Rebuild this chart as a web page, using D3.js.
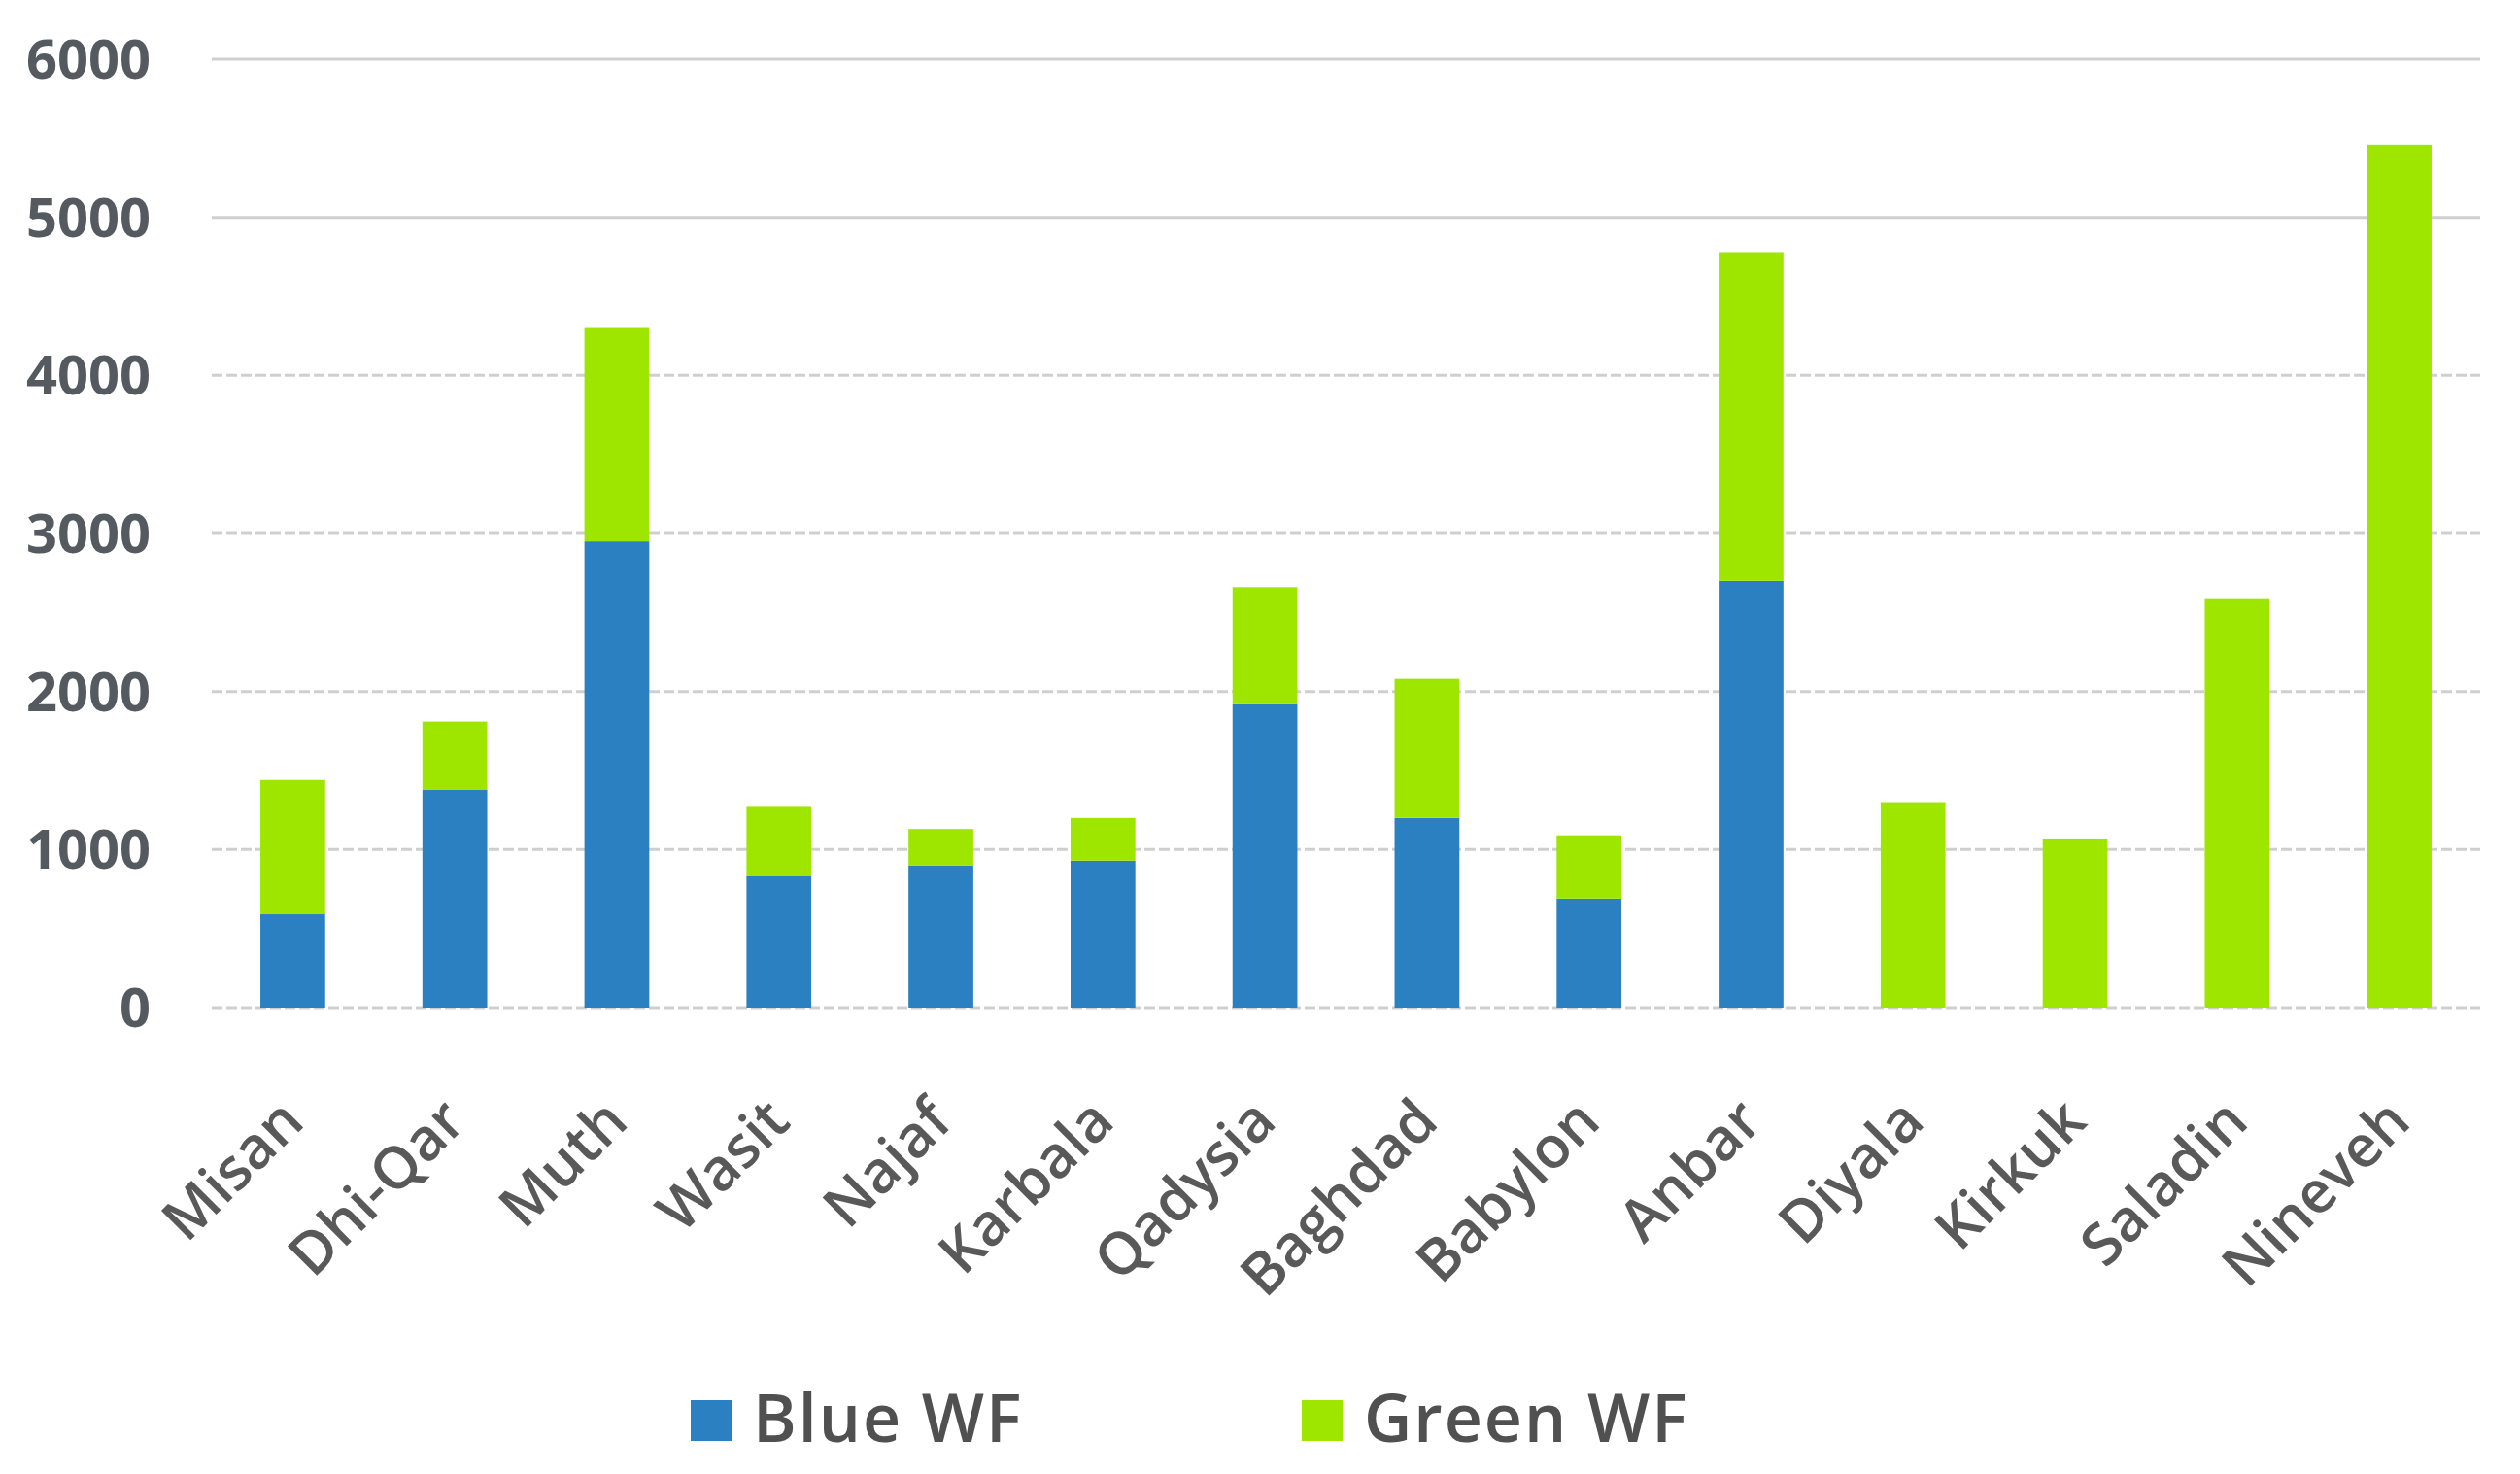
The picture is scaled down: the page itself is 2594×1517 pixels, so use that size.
<!DOCTYPE html>
<html>
<head>
<meta charset="utf-8">
<script src="https://cdn.jsdelivr.net/npm/d3@7"></script>
<style>
  html, body { margin: 0; padding: 0; background: #ffffff; }
  svg { display: block; }
</style>
</head>
<body>
<svg id="chart" width="2594" height="1517"></svg>
<script>
const categories = ["Misan", "Dhi-Qar", "Muth", "Wasit", "Najaf", "Karbala", "Qadysia", "Baghdad", "Babylon", "Anbar", "Diyala", "Kirkuk", "Saladin", "Nineveh"];
const blueWF  = [590, 1380, 2950, 830, 900, 930, 1920, 1200, 690, 2700, 0, 0, 0, 0];
const greenWF = [850, 430, 1350, 440, 230, 270, 740, 880, 400, 2080, 1300, 1070, 2590, 5460];
const seriesNames = ["Blue WF", "Green WF"];
const seriesColors = ["#2a80c0", "#9ee600"];
const yTicks = [0, 1000, 2000, 3000, 4000, 5000, 6000];

(function () {
const svg = d3.select("#chart");
const plotLeft = 218, plotRight = 2553, plotTop = 61, plotBottom = 1037;

const x = d3.scaleBand().domain(categories).range([plotLeft, plotRight]).paddingInner(0.6).paddingOuter(0.3);
const y = d3.scaleLinear().domain([0, 6000]).range([plotBottom, plotTop]);

// gridlines
svg.append("g").selectAll("line").data(yTicks).join("line")
  .attr("x1", plotLeft).attr("x2", plotRight)
  .attr("y1", d => y(d)).attr("y2", d => y(d))
  .attr("stroke", "#cfcfcf").attr("stroke-width", 3)
  .attr("stroke-dasharray", d => d >= 5000 ? null : "11,4");

// y labels
svg.append("g").selectAll("text").data(yTicks).join("text")
  .attr("x", 155).attr("y", d => y(d))
  .attr("dy", "0.36em")
  .attr("text-anchor", "end")
  .attr("font-family", "'Open Sans', sans-serif")
  .attr("font-weight", 700)
  .attr("font-size", 56)
  .attr("fill", "#555a60")
  .text(d => d);

// stacked bars
const rows = categories.map((c, i) => ({ cat: c, blue: blueWF[i], green: greenWF[i] }));
const stack = d3.stack().keys(["blue", "green"])(rows);
svg.append("g").selectAll("g").data(stack).join("g")
  .attr("fill", (d, i) => seriesColors[i])
  .selectAll("rect").data(d => d.filter(s => s[1] - s[0] > 0)).join("rect")
  .attr("x", d => x(d.data.cat))
  .attr("width", x.bandwidth())
  .attr("y", d => y(d[1]))
  .attr("height", d => y(d[0]) - y(d[1]));

// x labels
svg.append("g").selectAll("text").data(categories).join("text")
  .attr("transform", d => `translate(${x(d) + x.bandwidth() / 2 + 14},${plotBottom + 120}) rotate(-45)`)
  .attr("text-anchor", "end")
  .attr("font-family", "'Open Sans', sans-serif")
  .attr("font-weight", 600)
  .attr("font-size", 60)
  .attr("fill", "#595959")
  .text(d => d);

// legend
const legendX = [711, 1340];
const lg = svg.append("g").selectAll("g").data(seriesNames).join("g")
  .attr("transform", (d, i) => `translate(${legendX[i]},1441)`);
lg.append("rect").attr("width", 42).attr("height", 42).attr("fill", (d, i) => seriesColors[i]);
lg.append("text")
  .attr("x", 64).attr("y", 43)
  .attr("font-family", "'Open Sans', sans-serif")
  .attr("font-weight", 600)
  .attr("font-size", 68)
  .attr("letter-spacing", 2)
  .attr("fill", "#505050")
  .text(d => d);
})();
</script>
</body>
</html>
